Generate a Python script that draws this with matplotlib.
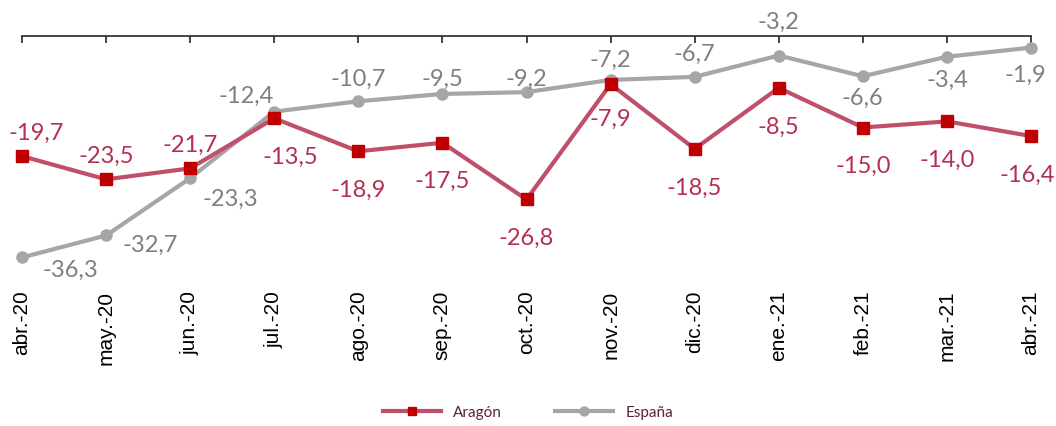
import matplotlib
matplotlib.use('Agg')
import matplotlib.pyplot as plt

# datos
meses = ['abr.-20', 'may.-20', 'jun.-20', 'jul.-20', 'ago.-20', 'sep.-20', 'oct.-20',
         'nov.-20', 'dic.-20', 'ene.-21', 'feb.-21', 'mar.-21', 'abr.-21']
aragon = [-19.7, -23.5, -21.7, -13.5, -18.9, -17.5, -26.8, -7.9, -18.5, -8.5, -15.0, -14.0, -16.4]
espana = [-36.3, -32.7, -23.3, -12.4, -10.7, -9.5, -9.2, -7.2, -6.7, -3.2, -6.6, -3.4, -1.9]

# posicion de las etiquetas (desplazamiento en pixeles)
off_aragon = [(14, 24), (0, 24), (0, 24), (16, -38), (0, -38), (0, -38), (0, -38),
              (0, -34), (0, -38), (0, -38), (0, -38), (0, -38), (-4, -38)]
off_espana = [(48, -12), (44, -9), (40, -20), (-28, 16), (0, 23), (0, 16), (0, 14),
              (0, 21), (0, 24), (0, 34), (0, -21), (0, -23), (-6, -27)]

col_ar = '#C0506A'
col_ar_mk = '#C00000'
col_ar_txt = '#B3304F'
col_es = '#A6A6A6'
col_es_txt = '#7F7F7F'

fig = plt.figure(figsize=(10.56, 4.27), dpi=100)
ax = fig.add_axes([22/1056, 1-281/427, (1031-22)/1056, (281-37)/427])

xx = range(len(meses))
ax.plot(xx, aragon, color=col_ar, lw=3, marker='s', ms=8, mfc=col_ar_mk, mec=col_ar_mk,
        label='Aragón', clip_on=False, zorder=3)
ax.plot(xx, espana, color=col_es, lw=3, marker='o', ms=8, mfc=col_es, mec=col_es,
        label='España', clip_on=False, zorder=2)

for i in xx:
    ax.annotate(f'{aragon[i]:.1f}'.replace('.', ','), (i, aragon[i]), xytext=off_aragon[i],
                textcoords='offset pixels', ha='center', va='center', fontsize=17,
                family='Lato', color=col_ar_txt)
    ax.annotate(f'{espana[i]:.1f}'.replace('.', ','), (i, espana[i]), xytext=off_espana[i],
                textcoords='offset pixels', ha='center', va='center', fontsize=17,
                family='Lato', color=col_es_txt)

ax.set_xlim(0, 12)
ax.set_ylim(-40, 0)
ax.set_yticks([])
for s in ['left', 'right', 'bottom']:
    ax.spines[s].set_visible(False)
ax.spines['top'].set_color('#262626')
ax.spines['top'].set_linewidth(1.2)

ax.set_xticks(list(xx))
ax.set_xticklabels(meses, rotation=90, family='Liberation Sans', fontsize=15)
ax.tick_params(axis='x', bottom=False, top=True, labelbottom=True, labeltop=False,
               direction='in', length=5, width=1.2, color='#262626', pad=7)

leg = fig.legend(loc='center', bbox_to_anchor=(0.5, 1-413/427), ncol=2, frameon=False,
                 prop={'family': 'Lato', 'size': 11}, handlelength=3.8, columnspacing=3.5,
                 markerscale=0.8)
for t in leg.get_texts():
    t.set_color('#5B2333')

fig.savefig('out.png', dpi=100)
